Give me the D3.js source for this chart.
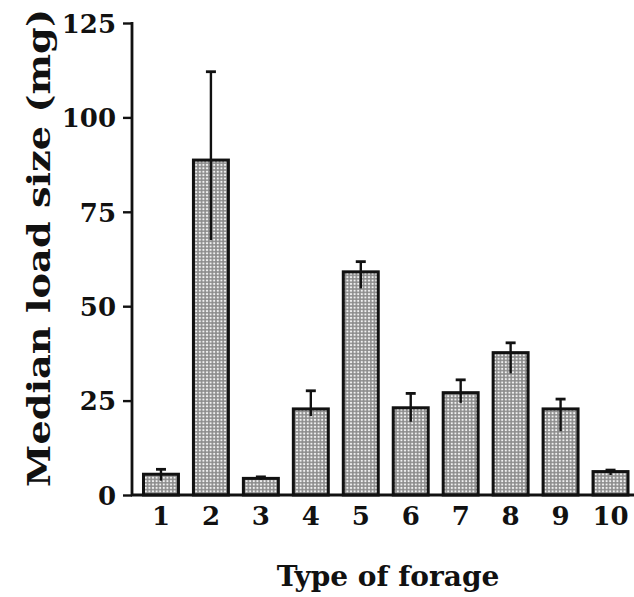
<!DOCTYPE html>
<html>
<head>
<meta charset="utf-8">
<script src="https://cdn.jsdelivr.net/npm/d3@7"></script>
<style>
  body { margin: 0; background: #fff; }
  text { font-family: "DejaVu Serif", serif; font-weight: bold; fill: #111; }
</style>
</head>
<body>
<div class="chart"></div>
<script>
// forage types and median load size (mg)
var categories = ['1', '2', '3', '4', '5', '6', '7', '8', '9', '10']
var medians = [5.5, 88.7, 4.4, 22.8, 59.1, 23.1, 27.1, 37.7, 22.8, 6.2]
var errLow = [3.8, 67.5, 4.0, 20.9, 54.7, 19.4, 24.4, 32.2, 16.9, 5.3]
var errHigh = [6.8, 112.1, 4.8, 27.6, 61.8, 26.9, 30.5, 40.3, 25.4, 6.6]
var yTicks = [0, 25, 50, 75, 100, 125]

var data = categories.map(function (c, i) {
    return {x: c, y: medians[i], lo: errLow[i], hi: errHigh[i]}
})

var W = 634, H = 597
var svg = d3.select('.chart')
    .append('svg')
    .attr('width', W)
    .attr('height', H)

// dotted screen fill like the printed bars
var defs = svg.append('defs')
var pat = defs.append('pattern')
    .attr('id', 'dots')
    .attr('patternUnits', 'userSpaceOnUse')
    .attr('width', 3.6)
    .attr('height', 3.4)
pat.append('rect').attr('width', 3.6).attr('height', 3.4).attr('fill', '#8c8c8c')
pat.append('circle').attr('cx', 1.8).attr('cy', 1.7).attr('r', 1.15).attr('fill', '#f2f2f2')

var x0 = 132, y0 = 495
var xScale = d3.scaleBand()
    .domain(categories)
    .range([x0, 639.5])
    .paddingInner(0.3)
    .paddingOuter(0.23)

var yScale = d3.scaleLinear()
    .domain([0, 125])
    .range([y0, 23])

// bars
svg.selectAll('.bar')
    .data(data)
    .enter()
    .append('rect')
    .attr('class', 'bar')
    .attr('x', function (d) { return xScale(d.x) })
    .attr('width', xScale.bandwidth())
    .attr('y', function (d) { return yScale(d.y) })
    .attr('height', function (d) { return y0 - yScale(d.y) })
    .attr('fill', 'url(#dots)')
    .attr('stroke', '#111')
    .attr('stroke-width', 3)

// error bars, cap on top only
var eb = svg.selectAll('.err')
    .data(data)
    .enter()
    .append('g')
    .attr('class', 'err')
eb.append('line')
    .attr('x1', function (d) { return xScale(d.x) + xScale.bandwidth() / 2 })
    .attr('x2', function (d) { return xScale(d.x) + xScale.bandwidth() / 2 })
    .attr('y1', function (d) { return yScale(d.lo) })
    .attr('y2', function (d) { return yScale(d.hi) })
    .attr('stroke', '#111')
    .attr('stroke-width', 2.4)
eb.append('line')
    .attr('x1', function (d) { return xScale(d.x) + xScale.bandwidth() / 2 - 5 })
    .attr('x2', function (d) { return xScale(d.x) + xScale.bandwidth() / 2 + 5 })
    .attr('y1', function (d) { return yScale(d.hi) })
    .attr('y2', function (d) { return yScale(d.hi) })
    .attr('stroke', '#111')
    .attr('stroke-width', 2.8)

// y axis
var yAxis = d3.axisLeft(yScale)
    .tickValues(yTicks)
    .tickSize(9)
    .tickPadding(7)
var gy = svg.append('g')
    .attr('transform', 'translate(' + x0 + ',0)')
    .call(yAxis)
gy.select('.domain').remove()
gy.selectAll('.tick line').attr('stroke', '#111').attr('stroke-width', 2.4)
gy.selectAll('.tick text')
    .style('font-family', '"DejaVu Serif", serif')
    .style('font-weight', 'bold')
    .style('font-size', '26px')
    .attr('fill', '#111')
    .attr('dy', '0.36em')
svg.append('line')
    .attr('x1', x0).attr('x2', x0)
    .attr('y1', yScale(125) - 1).attr('y2', y0 + 1)
    .attr('stroke', '#111').attr('stroke-width', 2.8)

// x axis
var xAxis = d3.axisBottom(xScale)
    .tickSize(0)
    .tickPadding(12)
var gx = svg.append('g')
    .attr('transform', 'translate(0,' + y0 + ')')
    .call(xAxis)
gx.select('.domain').remove()
gx.selectAll('.tick text')
    .style('font-family', '"DejaVu Serif", serif')
    .style('font-weight', 'bold')
    .style('font-size', '26px')
    .attr('fill', '#111')
svg.append('line')
    .attr('x1', x0 - 1).attr('x2', W)
    .attr('y1', y0).attr('y2', y0)
    .attr('stroke', '#111').attr('stroke-width', 2.8)

// axis titles
svg.append('text')
    .attr('x', 388)
    .attr('y', 586)
    .attr('text-anchor', 'middle')
    .style('font-size', '28px')
    .text('Type of forage')

svg.append('text')
    .attr('transform', 'translate(50,248) rotate(-90)')
    .attr('text-anchor', 'middle')
    .attr('textLength', 478)
    .attr('lengthAdjust', 'spacingAndGlyphs')
    .style('font-size', '32px')
    .text('Median load size (mg)')
</script>
</body>
</html>
